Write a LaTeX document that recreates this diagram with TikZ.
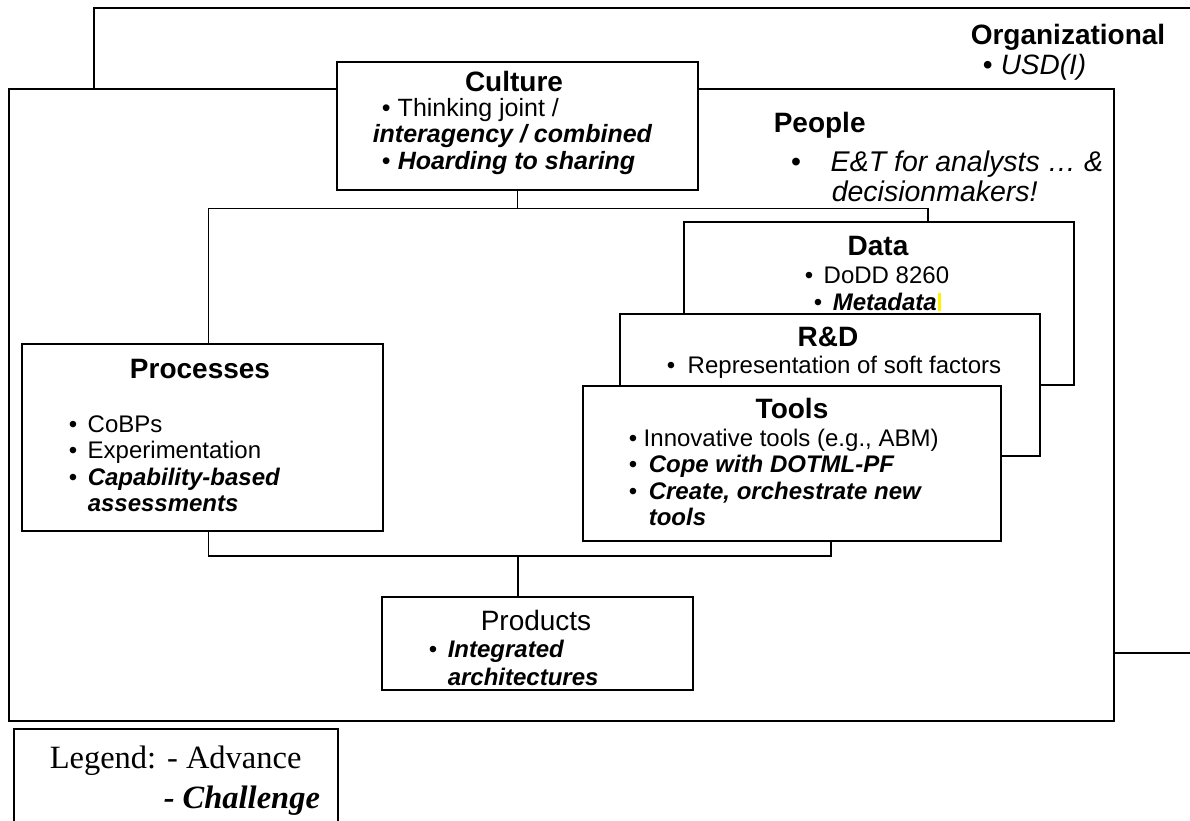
\documentclass[tikz,border=0pt]{standalone}
\usepackage{fontspec}
\setmainfont{Liberation Sans}
\newfontfamily\legendserif{Liberation Serif}
\newcommand\bodysize{\fontsize{24}{26.5}\selectfont}
\newcommand\headsize{\fontsize{28}{30}\selectfont\bfseries}
\newcommand\chal[1]{\textbf{\textit{#1}}}
\newcommand\bl[2]{\makebox[#1pt][l]{•}#2}
\begin{document}
\begin{tikzpicture}[x=1pt,y=-1pt,line width=1.5pt,
    box/.style 2 args={draw,fill=white,inner sep=0pt,anchor=north west,
      minimum width=#1,minimum height=#2},
    head/.style={inner sep=0pt,anchor=base,font=\headsize},
    items/.style={inner sep=0pt,anchor=base west,align=left,font=\bodysize}]
  \useasboundingbox (0,0) rectangle (1190,820);
  % organizational frame, runs off the right edge
  \draw[fill=white] (1200,8) -- (94,8) -- (94,653) -- (1200,653);
  \node[head,anchor=base west] (orgtitle) at (970,44) {Organizational};
  \node[items,font=\fontsize{28}{30}\selectfont] (orgitems) at (982,74)
    {\bl{18}{\textit{USD(I)}}};
  % people frame
  \node[box={1105}{632}] (people) at (8,88) {};
  \node[head,anchor=base west] (peopletitle) at (773,132) {People};
  \node[items,font=\fontsize{28.5}{29.5}\selectfont\itshape] (peopleitems)
    at (790,201) {\bl{40}{E\&T for analysts … \&}\\\hspace*{41pt}decisionmakers!};
  % culture
  \node[box={361}{128}] (culture) at (336,61) {};
  \node[head] (culturetitle) at (514,91) {Culture};
  \node[items,font=\fontsize{25}{26.5}\selectfont] (cultureitems) at (381,169)
    {\bl{16}{Thinking joint /}\\\hspace*{-9pt}\chal{interagency / combined}\\
     \bl{16}{\chal{Hoarding to sharing}}};
  % processes
  \node[box={361}{187}] (processes) at (21,343) {};
  \node[head] (processestitle) at (200,378) {Processes};
  \node[items] (processesitems) at (68,511.5)
    {\bl{19}{CoBPs}\\\bl{19}{Experimentation}\\\bl{19}{\chal{Capability-based}}\\
     \hspace*{19pt}\chal{assessments}};
  % data, r&d, tools stack
  \node[box={390}{163}] (data) at (683,221) {};
  \node[head] (datatitle) at (878,255) {Data};
  \node[items] (dataitems) at (804,310)
    {\bl{19}{DoDD 8260}\\\hspace*{9pt}\bl{19}{\chal{Metadata}}};
  \fill[yellow] (938,293) rectangle (941,311);
  \node[box={420}{142}] (rnd) at (619,313) {};
  \node[head] (rndtitle) at (828,346) {R\&D};
  \node[items] (rnditems) at (666,373) {\bl{21}{Representation of soft factors}};
  \node[box={418}{155}] (tools) at (582,385) {};
  \node[head] (toolstitle) at (792,418) {Tools};
  \node[items] (toolsitems) at (628,525.5)
    {\bl{15}{Innovative tools (e.g., ABM)}\\\bl{20}{\chal{Cope with DOTML-PF}}\\
     \bl{20}{\chal{Create, orchestrate new}}\\\hspace*{20pt}\chal{tools}};
  % products
  \node[box={311}{93}] (products) at (381,596) {};
  \node[head,font=\fontsize{28}{30}\selectfont] (productstitle) at (536,630) {Products};
  \node[items,font=\fontsize{24}{27.5}\selectfont] (productsitems) at (428,685)
    {\bl{19}{\chal{Integrated}}\\\hspace*{19pt}\chal{architectures}};
  % connectors
  \draw (culture.south) -- ++(0,18) coordinate (topbus);
  \draw (topbus) -| ([xshift=6pt]processes.north);
  \draw (topbus) -| ([xshift=49pt]data.north);
  \coordinate (lowbus) at (518,556);
  \draw ([xshift=6pt]processes.south) |- (lowbus) -| ([xshift=39pt]tools.south);
  \draw (lowbus) -- (lowbus |- products.north);
  % legend
  \node[box={324}{120}] (legend) at (13,728) {};
  \node[inner sep=0pt,anchor=base west,align=left,
    font=\legendserif\fontsize{32.5}{40}\selectfont] (legendtext) at (49,808)
    {Legend: - Advance\\\hspace*{114pt}\chal{- Challenge}};
\end{tikzpicture}
\end{document}
